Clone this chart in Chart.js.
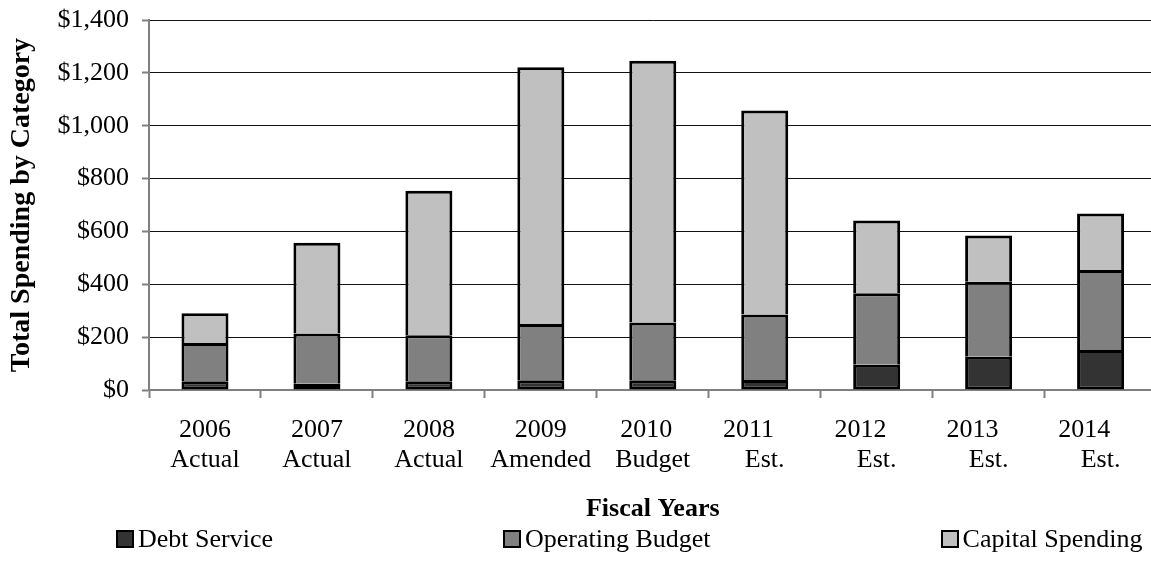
<!DOCTYPE html>
<html>
<head>
<meta charset="utf-8">
<title>Total Spending by Category</title>
<script src="https://cdn.jsdelivr.net/npm/chart.js@4.4.1/dist/chart.umd.min.js"></script>
<style>
  html, body { margin: 0; padding: 0; background: #fff; }
  #frame { position: relative; width: 1151px; height: 580px; overflow: hidden; }
  #plot { position: absolute; left: 0; top: 0; }
  #legend {
    position: absolute; left: 116px; top: 526px; height: 26px;
    display: flex; gap: 230px;
    font: 26px 'Liberation Serif', 'Times New Roman', serif; color: #000;
  }
  .item { display: flex; align-items: center; white-space: nowrap; line-height: 26px; }
  .swatch { width: 18px; height: 18px; box-sizing: border-box; border: 2px solid #000; margin-right: 4px; }
</style>
</head>
<body>
<div id="frame">
  <canvas id="plot" width="1160" height="580" style="width:1160px;height:580px"></canvas>
  <div id="legend"></div>
</div>
<script>
// Fiscal years and their budget stage (second line of each category label)
const years  = ['2006', '2007', '2008', '2009', '2010', '2011', '2012', '2013', '2014'];
const stages = ['Actual', 'Actual', 'Actual', 'Amended', 'Budget', 'Est.', 'Est.', 'Est.', 'Est.'];

// Spending by category
const debtService     = [33, 24, 33, 37, 37, 38, 96, 126, 151];
const operatingBudget = [145, 190, 174, 213, 218, 248, 270, 284, 303];
const capitalSpending = [112, 343, 547, 971, 991, 772, 275, 175, 214];

// Value axis range and step
const yMin = 0;
const yMax = 1400;
const yStep = 200;

const FONT = "'Liberation Serif', 'Times New Roman', serif";
Chart.defaults.font.family = FONT;
Chart.defaults.color = '#000';

// The year line sits a little left of the stage line on some labels
const yearIndent = { 'Budget': 2, 'Est.': 5 };
const labels = years.map((y, i) => [y + '\u00a0'.repeat(yearIndent[stages[i]] || 0), stages[i]]);

const money = v => '$' + Number(v).toLocaleString('en-US');

const chart = new Chart(document.getElementById('plot'), {
  type: 'bar',
  data: {
    labels: labels,
    datasets: [
      { label: 'Debt Service', data: debtService, backgroundColor: '#333333',
        borderColor: '#000', borderWidth: 3, borderSkipped: false },
      { label: 'Operating Budget', data: operatingBudget, backgroundColor: '#808080',
        borderColor: '#000', borderWidth: 3, borderSkipped: 'start' },
      { label: 'Capital Spending', data: capitalSpending, backgroundColor: '#C0C0C0',
        borderColor: '#000', borderWidth: 3, borderSkipped: 'start' }
    ]
  },
  options: {
    responsive: false,
    animation: false,
    events: [],
    layout: { padding: { top: 20, right: 3, bottom: 55, left: 0 } },
    datasets: { bar: { categoryPercentage: 1, barPercentage: 0.42 } },
    plugins: { legend: { display: false }, tooltip: { enabled: false } },
    scales: {
      x: {
        stacked: true,
        grid: { display: true, drawOnChartArea: false, drawTicks: true, offset: true,
                tickLength: 8, tickColor: '#808080', tickWidth: 2 },
        border: { display: true, color: '#808080', width: 2 },
        ticks: { color: '#000', padding: 17, maxRotation: 0, minRotation: 0, autoSkip: false,
                 font: { family: FONT, size: 26, lineHeight: 1.155 } },
        title: { display: true, text: 'Fiscal Years', color: '#000', padding: 0,
                 font: { family: FONT, size: 26, weight: 'bold' } },
        afterFit: s => { s.height = 135; }
      },
      y: {
        stacked: true,
        min: yMin, max: yMax,
        grid: { color: '#111', lineWidth: 1, tickLength: 7, tickColor: '#808080', tickWidth: 2 },
        border: { display: true, color: '#808080', width: 2 },
        ticks: { stepSize: yStep, padding: 13, color: '#000', callback: money,
                 font: { family: FONT, size: 26 } },
        title: { display: true, text: 'Total Spending by Category', color: '#000',
                 padding: { top: 5, bottom: 0 },
                 font: { family: FONT, size: 28, weight: 'bold' } },
        afterFit: s => { s.width = 149; s.paddingTop = 0; s.paddingBottom = 0; }
      }
    }
  }
});

// Legend row built from the datasets
const legend = document.getElementById('legend');
chart.data.datasets.forEach(ds => {
  const item = document.createElement('div');
  item.className = 'item';
  const sw = document.createElement('span');
  sw.className = 'swatch';
  sw.style.background = ds.backgroundColor;
  const tx = document.createElement('span');
  tx.textContent = ds.label;
  item.appendChild(sw);
  item.appendChild(tx);
  legend.appendChild(item);
});
</script>
</body>
</html>
